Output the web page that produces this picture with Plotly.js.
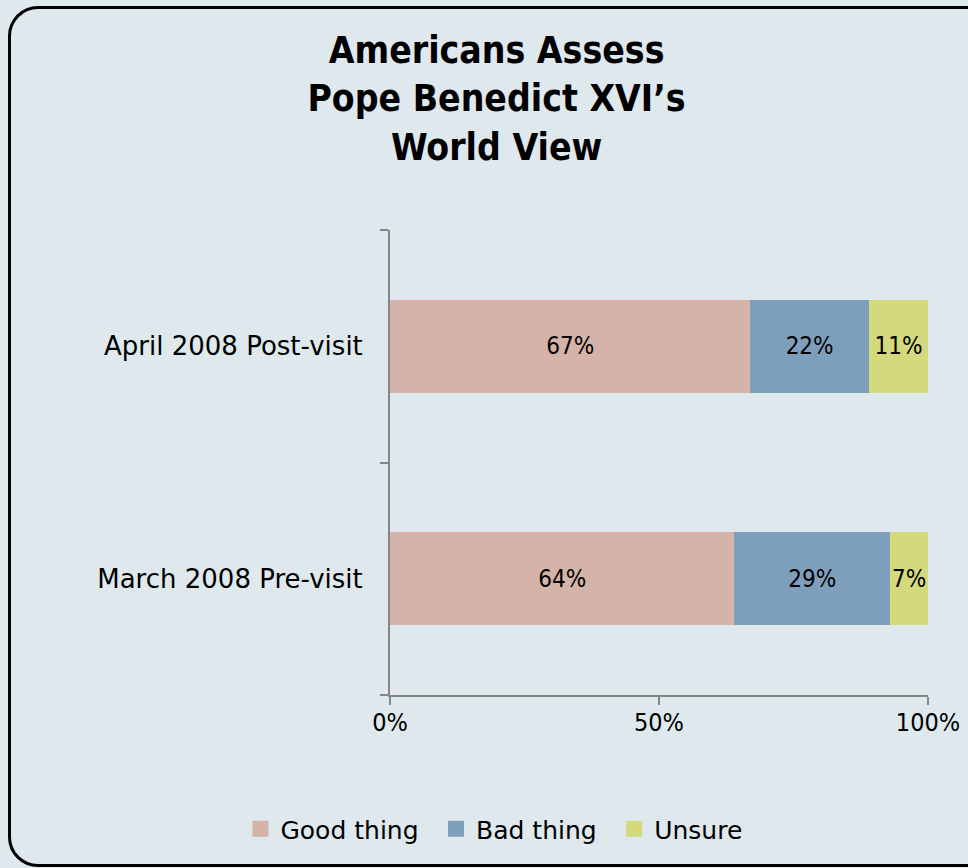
<!DOCTYPE html>
<html><head><meta charset="utf-8">
<script src="https://cdn.plot.ly/plotly-3.0.1.min.js"></script>
<style>
html,body{margin:0;padding:0;background:#dee8ed;}
#wrap{position:relative;width:968px;height:868px;overflow:hidden;}
#chart{position:absolute;left:0;top:0;width:968px;height:868px;}
#frame{position:absolute;left:8px;top:6px;width:990px;height:861px;border:3px solid #000;border-radius:30px;pointer-events:none;box-sizing:border-box;}
</style></head>
<body><div id="wrap"><div id="chart"></div><div id="frame"></div></div>
<script>
const categories = ["March 2008 Pre-visit", "April 2008 Post-visit"];
const goodThing = [64, 67];
const badThing = [29, 22];
const unsure = [7, 11];
const seriesNames = ["Good thing", "Bad thing", "Unsure"];
const xTickVals = [0, 50, 100];
const xTickText = ["0%", "50%", "100%"];
const FONT = "'DejaVu Sans', sans-serif";
const FONTC = "'DejaVu Sans Condensed', 'DejaVu Sans', sans-serif";
const colors = ["#d5b3a8", "#7e9fbb", "#d4da7b"];
const seriesVals = [goodThing, badThing, unsure];
const traces = seriesNames.map((n, i) => ({
  type: "bar", orientation: "h", name: n, showlegend: false,
  y: categories, x: seriesVals[i],
  marker: {color: colors[i]},
  width: 0.4,
  text: seriesVals[i].map(v => v + "%"),
  textposition: "inside", insidetextanchor: "middle", constraintext: "none", textangle: 0,
  textfont: {family: FONTC, size: 24, color: "#000"},
  hoverinfo: "none"
}));
seriesNames.forEach((n, i) => traces.push({
  type: "scatter", mode: "markers", name: n + "\u2002", x: [null], y: [null],
  marker: {symbol: "square", size: 16, color: colors[i]}, hoverinfo: "none"
}));
const layout = {
  width: 968, height: 868,
  paper_bgcolor: "#dee8ed", plot_bgcolor: "#dee8ed",
  barmode: "stack",
  margin: {l: 390, r: 40, t: 230, b: 173, autoexpand: false},
  font: {family: FONT, size: 24, color: "#000"},
  title: {text: "<b>Americans Assess<br>Pope Benedict XVI’s<br>World View</b>", xref: "container", x: 0.513, xanchor: "center", yref: "container", y: 0.927, yanchor: "top", font: {family: FONTC, size: 37, color: "#000"}},
  xaxis: {range: [0, 100], tickvals: xTickVals, ticktext: xTickText, showgrid: false, zeroline: false,
    showline: true, linecolor: "#868686", linewidth: 2, ticks: "outside", ticklen: 8, tickcolor: "#868686", tickwidth: 2,
    ticklabelstandoff: -4, tickfont: {family: FONTC, size: 25}, fixedrange: true},
  yaxis: {showgrid: false, zeroline: false, showline: true, linecolor: "#868686", linewidth: 2,
    ticks: "outside", ticklen: 8, tickcolor: "#868686", tickwidth: 2, tickson: "boundaries",
    ticklabelstandoff: 20, tickfont: {family: FONT, size: 26}, fixedrange: true},
  showlegend: true,
  legend: {orientation: "h", xref: "container", x: 0.517, xanchor: "center", yref: "container", y: 1 - 829/868, yanchor: "middle", traceorder: "normal",
    font: {family: FONT, size: 25}, itemwidth: 30, bgcolor: "rgba(0,0,0,0)"},
  bargap: 0.6
};
Plotly.newPlot("chart", traces, layout, {staticPlot: true});
</script></body></html>
